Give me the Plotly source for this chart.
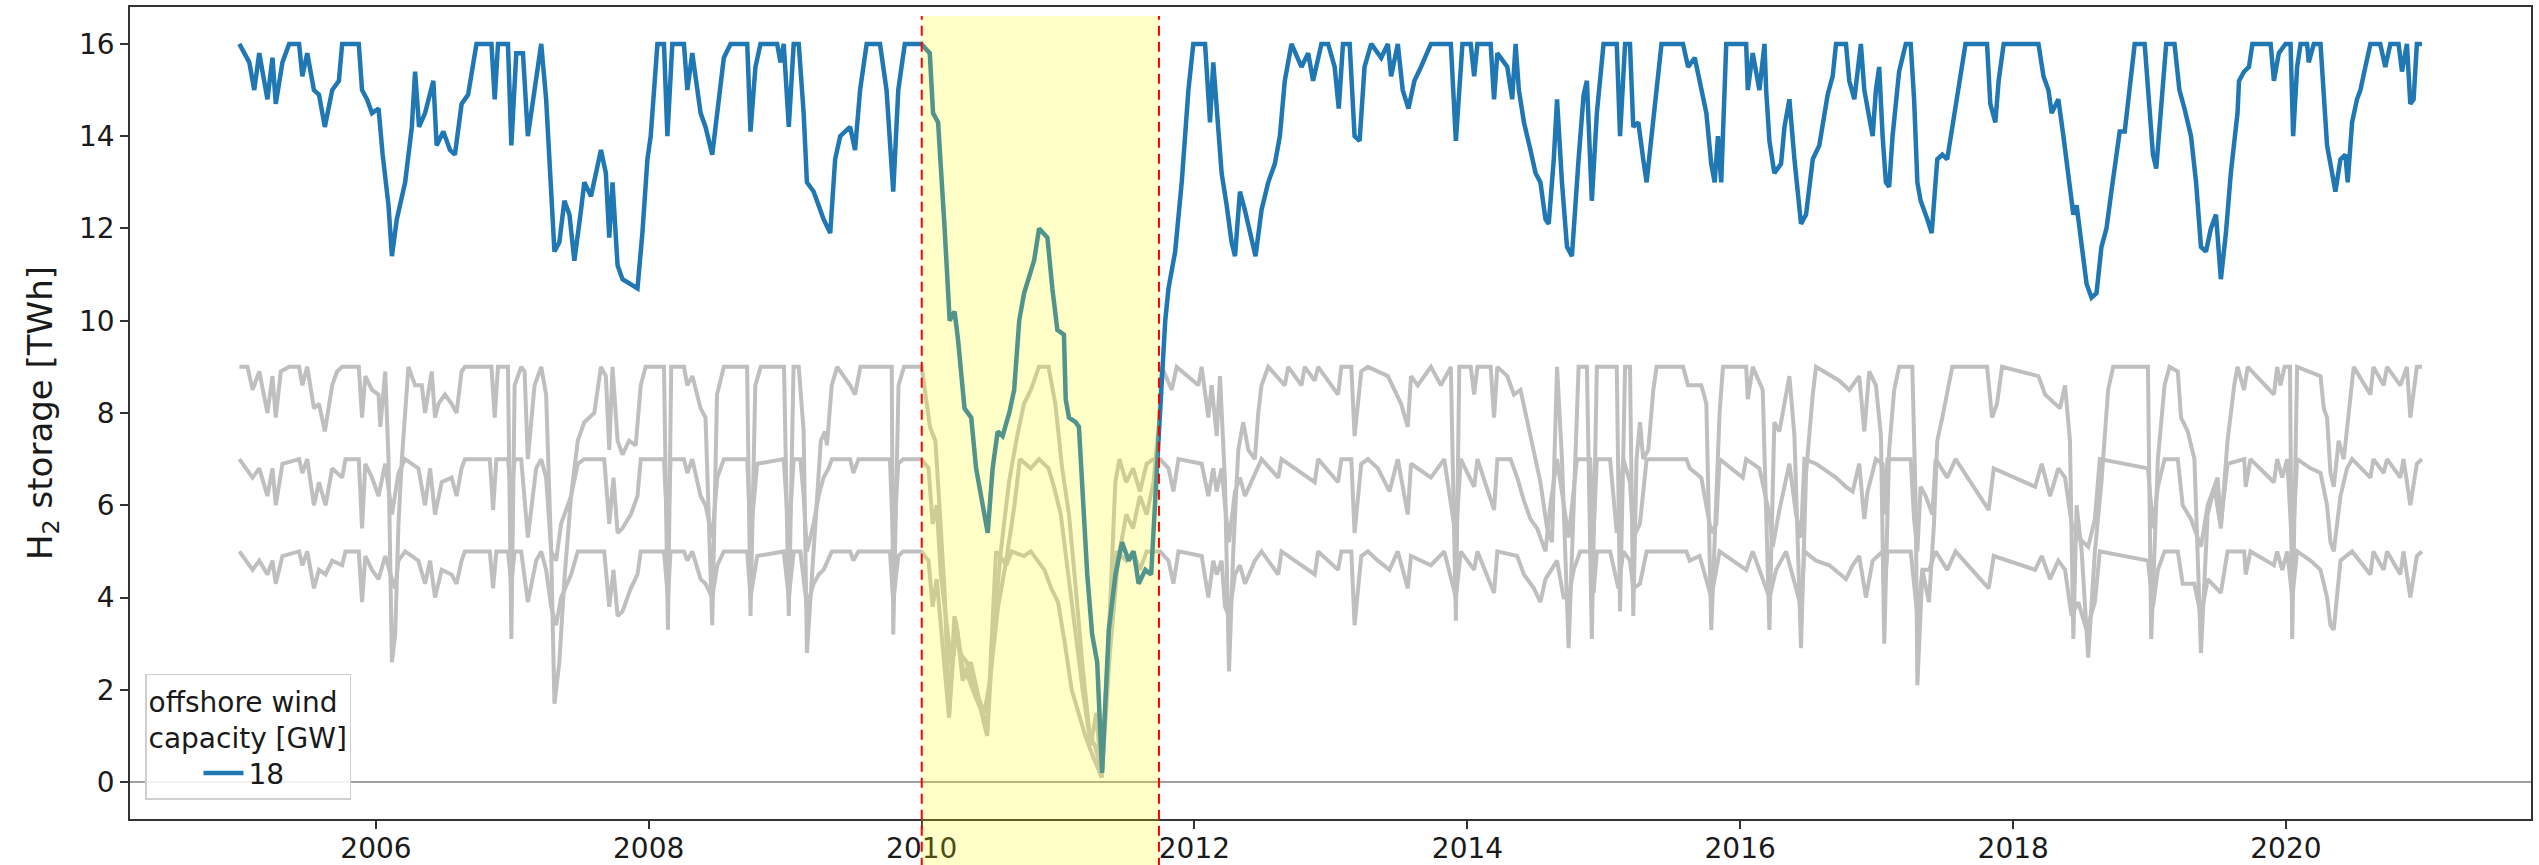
import plotly.graph_objects as go
from datetime import datetime

# ---------------- data (decimal years, TWh) ----------------
blue_t = [2004.998, 2005.071, 2005.107, 2005.144, 2005.204, 2005.241, 2005.265, 2005.314, 2005.363, 2005.436,
          2005.460, 2005.496, 2005.545, 2005.582, 2005.625, 2005.679, 2005.728, 2005.752, 2005.874, 2005.898,
          2005.934, 2005.971, 2006.019, 2006.049, 2006.092, 2006.117, 2006.153, 2006.214, 2006.263, 2006.287,
          2006.316, 2006.360, 2006.421, 2006.445, 2006.494, 2006.543, 2006.579, 2006.628, 2006.676, 2006.713,
          2006.737, 2006.847, 2006.871, 2006.895, 2006.968, 2006.993, 2007.029, 2007.078, 2007.114, 2007.163,
          2007.212, 2007.248, 2007.280, 2007.309, 2007.345, 2007.382, 2007.419, 2007.455, 2007.504, 2007.528,
          2007.577, 2007.650, 2007.686, 2007.711, 2007.735, 2007.772, 2007.808, 2007.869, 2007.918, 2007.954,
          2007.991, 2008.015, 2008.064, 2008.112, 2008.137, 2008.173, 2008.258, 2008.283, 2008.319, 2008.380,
          2008.416, 2008.465, 2008.502, 2008.550, 2008.599, 2008.721, 2008.745, 2008.781, 2008.818, 2008.940,
          2008.964, 2008.988, 2009.025, 2009.061, 2009.098, 2009.134, 2009.158, 2009.207, 2009.244, 2009.280,
          2009.329, 2009.365, 2009.402, 2009.475, 2009.511, 2009.548, 2009.596, 2009.694, 2009.742, 2009.791,
          2009.828, 2009.876, 2009.998, 2010.059, 2010.083, 2010.120, 2010.168, 2010.193, 2010.205, 2010.241,
          2010.266, 2010.314, 2010.363, 2010.399, 2010.447, 2010.484, 2010.520, 2010.557, 2010.593, 2010.642,
          2010.678, 2010.715, 2010.751, 2010.788, 2010.824, 2010.861, 2010.922, 2010.958, 2010.995, 2011.043,
          2011.056, 2011.080, 2011.129, 2011.153, 2011.189, 2011.214, 2011.250, 2011.287, 2011.323, 2011.372,
          2011.421, 2011.469, 2011.518, 2011.554, 2011.591, 2011.640, 2011.683, 2011.700, 2011.742, 2011.786,
          2011.810, 2011.859, 2011.907, 2011.956, 2011.992, 2012.078, 2012.114, 2012.138, 2012.163, 2012.199,
          2012.236, 2012.272, 2012.297, 2012.333, 2012.369, 2012.418, 2012.447, 2012.491, 2012.540, 2012.588,
          2012.625, 2012.661, 2012.710, 2012.783, 2012.832, 2012.868, 2012.929, 2012.978, 2013.026, 2013.056,
          2013.087, 2013.136, 2013.172, 2013.209, 2013.245, 2013.294, 2013.367, 2013.416, 2013.440, 2013.489,
          2013.525, 2013.567, 2013.611, 2013.659, 2013.732, 2013.878, 2013.915, 2013.963, 2014.024, 2014.049,
          2014.073, 2014.170, 2014.195, 2014.219, 2014.292, 2014.328, 2014.353, 2014.377, 2014.414, 2014.462,
          2014.499, 2014.535, 2014.572, 2014.596, 2014.633, 2014.657, 2014.693, 2014.730, 2014.766, 2014.815,
          2014.852, 2014.876, 2014.912, 2014.949, 2014.998, 2015.095, 2015.119, 2015.156, 2015.192, 2015.216,
          2015.253, 2015.289, 2015.314, 2015.350, 2015.387, 2015.423, 2015.581, 2015.618, 2015.667, 2015.715,
          2015.752, 2015.788, 2015.813, 2015.837, 2015.861, 2015.898, 2016.044, 2016.056, 2016.092, 2016.141,
          2016.178, 2016.190, 2016.214, 2016.250, 2016.299, 2016.324, 2016.360, 2016.397, 2016.445, 2016.482,
          2016.531, 2016.579, 2016.604, 2016.640, 2016.677, 2016.701, 2016.774, 2016.798, 2016.835, 2016.859,
          2016.883, 2016.908, 2016.932, 2016.969, 2016.993, 2017.017, 2017.042, 2017.066, 2017.090, 2017.115,
          2017.163, 2017.212, 2017.248, 2017.273, 2017.297, 2017.321, 2017.370, 2017.402, 2017.443, 2017.480,
          2017.516, 2017.553, 2017.589, 2017.626, 2017.650, 2017.808, 2017.832, 2017.869, 2017.893, 2017.930,
          2018.185, 2018.222, 2018.258, 2018.282, 2018.331, 2018.368, 2018.404, 2018.441, 2018.465, 2018.502,
          2018.538, 2018.574, 2018.611, 2018.647, 2018.684, 2018.720, 2018.757, 2018.781, 2018.818, 2018.854,
          2018.891, 2018.964, 2018.988, 2019.025, 2019.049, 2019.085, 2019.122, 2019.183, 2019.219, 2019.256,
          2019.304, 2019.341, 2019.377, 2019.414, 2019.450, 2019.487, 2019.523, 2019.560, 2019.596, 2019.645,
          2019.656, 2019.693, 2019.729, 2019.754, 2019.888, 2019.912, 2019.948, 2019.997, 2020.034, 2020.053,
          2020.082, 2020.107, 2020.155, 2020.167, 2020.204, 2020.253, 2020.277, 2020.301, 2020.338, 2020.362,
          2020.399, 2020.435, 2020.452, 2020.484, 2020.520, 2020.545, 2020.581, 2020.618, 2020.690, 2020.727,
          2020.764, 2020.824, 2020.849, 2020.885, 2020.910, 2020.934, 2020.958, 2020.995]
blue_v = [16, 15.6, 15.0, 15.8, 14.8, 15.7, 14.7, 15.6, 16.0, 16.0,
          15.3, 15.8, 15.0, 14.9, 14.2, 15.0, 15.2, 16, 16, 15.0,
          14.8, 14.5, 14.6, 13.6, 12.5, 11.4, 12.2, 13.0, 14.2, 15.4,
          14.2, 14.5, 15.2, 13.8, 14.1, 13.7, 13.6, 14.7, 14.9, 15.6,
          16, 16, 14.8, 16, 16, 13.8, 15.8, 15.8, 14.0, 15.0,
          16, 14.8, 13.0, 11.5, 11.7, 12.6, 12.3, 11.3, 12.4, 13.0,
          12.7, 13.7, 13.2, 11.8, 13.0, 11.2, 10.9, 10.8, 10.7, 11.9,
          13.5, 14.0, 16, 16, 14.0, 16, 16, 15.0, 15.8, 14.5,
          14.2, 13.6, 14.5, 15.7, 16, 16, 14.1, 15.5, 16, 16,
          15.6, 16, 14.2, 16, 16, 14.5, 13.0, 12.8, 12.5, 12.2,
          11.9, 13.5, 14.0, 14.2, 13.7, 15.0, 16, 16, 15.0, 12.8,
          15.0, 16, 16, 15.8, 14.5, 14.3, 12.0, 10.5, 10.0, 10.2,
          9.6, 8.1, 7.9, 6.8, 6.0, 5.4, 6.8, 7.6, 7.5, 8.0,
          8.5, 10.0, 10.6, 11.0, 11.3, 12.0, 11.8, 10.7, 9.8, 9.7,
          8.3, 7.9, 7.8, 7.7, 5.6, 4.5, 3.2, 2.6, 0.2, 3.3,
          4.5, 5.2, 4.8, 5.0, 4.3, 4.6, 4.5, 5.5, 7.7, 10.0,
          10.7, 11.5, 13.0, 15.0, 16, 16, 14.3, 15.6, 14.5, 13.2,
          12.5, 11.7, 11.4, 12.8, 12.4, 11.8, 11.4, 12.4, 13.0, 13.4,
          14.0, 15.2, 16, 15.5, 15.8, 15.2, 16, 16, 15.5, 14.6,
          16, 16, 14.0, 13.9, 15.5, 16, 15.7, 16, 15.3, 16,
          15.0, 14.6, 15.2, 15.5, 16, 16, 13.9, 16, 16, 15.3,
          16, 16, 14.8, 15.8, 15.5, 14.8, 16, 15.0, 14.3, 13.7,
          13.2, 13.0, 12.2, 12.1, 13.5, 14.8, 13.0, 11.6, 11.4, 13.5,
          14.9, 15.2, 12.6, 14.5, 16, 16, 14.0, 16, 16, 14.2,
          14.3, 13.5, 13.0, 14.0, 15.0, 16, 16, 15.5, 15.7, 15.0,
          14.5, 13.4, 13.0, 14.0, 13.0, 16, 16, 15.0, 15.8, 15.0,
          16, 15.0, 13.9, 13.2, 13.4, 14.2, 14.8, 13.5, 12.1, 12.3,
          13.5, 13.8, 14.3, 14.9, 15.3, 16, 16, 15.2, 14.8, 15.5,
          16, 15.0, 14.6, 14.0, 15.0, 15.5, 14.0, 13.0, 12.9, 14.0,
          15.4, 16, 16, 14.8, 13.0, 12.6, 12.2, 11.9, 13.5, 13.6,
          13.5, 14.2, 15.0, 15.7, 16, 16, 14.7, 14.3, 15.2, 16,
          16, 15.3, 15.0, 14.5, 14.8, 14.0, 13.2, 12.3, 12.5, 11.6,
          10.8, 10.5, 10.6, 11.6, 12.0, 12.8, 13.5, 14.1, 14.1, 15.0,
          16, 16, 15.0, 13.6, 13.3, 14.5, 16, 16, 15.0, 14.6,
          14.0, 13.0, 11.6, 11.5, 12.0, 12.3, 10.9, 11.9, 13.2, 14.5,
          15.2, 15.4, 15.5, 16, 16, 15.2, 15.8, 16, 16, 14.0,
          15.5, 16, 16, 15.6, 16, 16, 15.0, 13.8, 13.2, 12.8,
          13.5, 13.6, 13.0, 14.3, 14.8, 15.0, 15.5, 16, 16, 15.5,
          16, 16, 15.4, 16, 14.7, 14.8, 16, 16]

g9_t = [2004.998, 2005.058, 2005.095, 2005.144, 2005.204, 2005.241, 2005.265, 2005.302, 2005.363, 2005.436,
        2005.460, 2005.496, 2005.545, 2005.582, 2005.625, 2005.679, 2005.715, 2005.752, 2005.874, 2005.898,
        2005.922, 2005.971, 2006.019, 2006.032, 2006.068, 2006.092, 2006.117, 2006.141, 2006.165, 2006.190,
        2006.238, 2006.287, 2006.336, 2006.360, 2006.409, 2006.433, 2006.458, 2006.506, 2006.555, 2006.591,
        2006.628, 2006.652, 2006.847, 2006.871, 2006.895, 2006.968, 2006.993, 2007.017, 2007.065, 2007.090,
        2007.114, 2007.163, 2007.212, 2007.248, 2007.285, 2007.309, 2007.345, 2007.382, 2007.431, 2007.480,
        2007.528, 2007.601, 2007.650, 2007.686, 2007.711, 2007.735, 2007.772, 2007.808, 2007.857, 2007.905,
        2007.942, 2007.978, 2008.112, 2008.141, 2008.165, 2008.258, 2008.283, 2008.320, 2008.380, 2008.416,
        2008.465, 2008.500, 2008.550, 2008.720, 2008.745, 2008.780, 2008.820, 2008.990, 2009.025, 2009.060,
        2009.098, 2009.134, 2009.158, 2009.207, 2009.230, 2009.260, 2009.290, 2009.305, 2009.340, 2009.380,
        2009.475, 2009.511, 2009.550, 2009.780, 2009.791, 2009.830, 2009.870, 2010.000, 2010.060, 2010.100,
        2010.130, 2010.170, 2010.200, 2010.240, 2010.280, 2010.330, 2010.380, 2010.430, 2010.480, 2010.520,
        2010.580, 2010.640, 2010.700, 2010.750, 2010.800, 2010.860, 2010.930, 2010.980, 2011.030, 2011.080,
        2011.130, 2011.180, 2011.240, 2011.280, 2011.320, 2011.380, 2011.440, 2011.500, 2011.550, 2011.600,
        2011.650, 2011.700, 2011.740, 2011.760, 2011.834, 2011.870, 2012.029, 2012.053, 2012.102, 2012.126,
        2012.163, 2012.187, 2012.224, 2012.253, 2012.284, 2012.321, 2012.357, 2012.394, 2012.442, 2012.467,
        2012.491, 2012.540, 2012.661, 2012.686, 2012.783, 2012.807, 2012.880, 2012.905, 2013.051, 2013.075,
        2013.148, 2013.172, 2013.221, 2013.270, 2013.416, 2013.513, 2013.562, 2013.586, 2013.635, 2013.732,
        2013.805, 2013.878, 2013.915, 2013.940, 2014.024, 2014.049, 2014.073, 2014.170, 2014.195, 2014.219,
        2014.292, 2014.341, 2014.389, 2014.438, 2014.487, 2014.535, 2014.584, 2014.620, 2014.657, 2014.693,
        2014.742, 2014.779, 2014.815, 2014.876, 2014.912, 2014.949, 2015.095, 2015.119, 2015.156, 2015.192,
        2015.216, 2015.240, 2015.265, 2015.289, 2015.326, 2015.363, 2015.387, 2015.581, 2015.618, 2015.715,
        2015.752, 2015.788, 2015.825, 2015.849, 2015.874, 2016.044, 2016.056, 2016.092, 2016.165, 2016.214,
        2016.250, 2016.287, 2016.360, 2016.397, 2016.445, 2016.482, 2016.531, 2016.555, 2016.725, 2016.798,
        2016.871, 2016.908, 2016.944, 2016.993, 2017.030, 2017.054, 2017.090, 2017.127, 2017.163, 2017.260,
        2017.285, 2017.297, 2017.334, 2017.382, 2017.419, 2017.443, 2017.480, 2017.516, 2017.553, 2017.808,
        2017.845, 2017.881, 2017.918, 2018.185, 2018.234, 2018.343, 2018.380, 2018.416, 2018.441, 2018.465,
        2018.502, 2018.550, 2018.599, 2018.647, 2018.696, 2018.733, 2018.988, 2019.012, 2019.061, 2019.110,
        2019.146, 2019.207, 2019.231, 2019.280, 2019.329, 2019.377, 2019.426, 2019.475, 2019.523, 2019.572,
        2019.621, 2019.645, 2019.693, 2019.720, 2019.912, 2019.936, 2019.960, 2019.990, 2020.030, 2020.046,
        2020.082, 2020.253, 2020.277, 2020.301, 2020.326, 2020.350, 2020.386, 2020.423, 2020.459, 2020.496,
        2020.618, 2020.640, 2020.715, 2020.740, 2020.837, 2020.885, 2020.910, 2020.934, 2020.958, 2020.995]
g9_v = [9, 9, 8.5, 8.9, 8.0, 8.8, 7.9, 8.9, 9, 9,
        8.6, 9, 8.1, 8.2, 7.6, 8.6, 8.9, 9, 9, 7.9,
        8.8, 8.5, 8.4, 7.7, 8.9, 7.0, 2.6, 3.2, 5.6, 7.0,
        9, 8.6, 8.6, 8.0, 8.9, 7.9, 8.2, 8.4, 8.2, 8.0,
        8.9, 9, 9, 7.9, 9, 9, 3.1, 8.6, 9, 8.9,
        7.0, 8.6, 9, 8.4, 5.0, 1.7, 2.6, 4.4, 6.2, 7.4,
        7.8, 8.0, 9.0, 8.8, 7.2, 9.0, 7.4, 7.1, 7.4, 7.3,
        8.6, 9, 9, 3.3, 9, 9, 8.6, 8.8, 8.1, 7.9,
        3.4, 8.4, 9, 9, 3.6, 8.6, 9, 9, 3.6, 9,
        9, 7.6, 2.8, 5.0, 6.2, 7.4, 7.6, 7.3, 8.6, 9,
        8.6, 8.4, 9, 9, 3.2, 8.6, 9, 9, 7.7, 7.4,
        6.0, 4.0, 1.4, 3.6, 2.8, 2.6, 2.0, 1.6, 1.0, 3.0,
        5.0, 6.5, 7.5, 8.2, 8.5, 9.0, 9.0, 8.2, 6.8, 5.8,
        4.2, 2.5, 0.8, 1.5, 0.1, 2.8, 4.8, 5.8, 5.5, 6.2,
        5.8, 6.5, 7.8, 9.0, 8.5, 9, 8.6, 9, 7.9, 8.6,
        7.5, 8.8, 6.5, 2.4, 5.0, 7.2, 7.8, 7.2, 7.0, 8.0,
        8.6, 9, 8.6, 9, 8.6, 9, 8.7, 9, 8.4, 9,
        9, 7.5, 8.9, 9, 8.8, 8.2, 7.7, 8.8, 8.6, 9,
        8.6, 9, 3.5, 9, 9, 8.4, 9, 9, 7.9, 9,
        8.8, 8.4, 8.5, 7.8, 7.2, 6.5, 5.5, 5.2, 9.0, 7.0,
        2.9, 6.0, 9, 9, 3.1, 9, 9, 3.7, 9, 9,
        3.6, 7.0, 7.8, 7.0, 7.2, 8.5, 9, 9, 8.6, 8.6,
        8.2, 3.3, 6.4, 8.0, 9, 9, 8.3, 9, 8.5, 3.3,
        7.8, 7.6, 8.8, 7.5, 2.9, 6.7, 8.4, 9, 8.7, 8.5,
        8.8, 7.6, 8.9, 8.6, 7.5, 3.0, 7.2, 8.5, 9, 9,
        6.0, 2.1, 4.6, 3.9, 5.6, 7.4, 7.9, 8.5, 9, 9,
        7.9, 8.2, 9, 8.8, 8.4, 8.1, 8.6, 7.4, 3.1, 6.0,
        5.0, 2.7, 5.0, 6.5, 8.5, 9, 9, 3.1, 7.0, 8.6,
        9, 8.9, 7.9, 7.6, 7.0, 2.8, 5.8, 6.4, 5.5, 7.4,
        8.6, 9, 8.5, 9, 8.4, 9, 8.6, 9, 9, 3.1,
        9, 8.8, 8.1, 7.9, 6.7, 6.4, 7.4, 7.0, 8.0, 9,
        8.4, 9, 8.6, 9, 8.6, 9, 7.9, 8.5, 9, 9]

g7_t = [2004.998, 2005.095, 2005.144, 2005.204, 2005.241, 2005.265, 2005.314, 2005.436, 2005.460, 2005.496,
        2005.545, 2005.582, 2005.630, 2005.679, 2005.752, 2005.776, 2005.874, 2005.898, 2005.922, 2005.971,
        2006.019, 2006.068, 2006.117, 2006.165, 2006.214, 2006.311, 2006.360, 2006.397, 2006.433, 2006.482,
        2006.555, 2006.591, 2006.628, 2006.652, 2006.835, 2006.859, 2006.883, 2006.968, 2006.993, 2007.017,
        2007.065, 2007.114, 2007.175, 2007.212, 2007.248, 2007.285, 2007.321, 2007.358, 2007.431, 2007.480,
        2007.528, 2007.674, 2007.711, 2007.742, 2007.772, 2007.808, 2007.869, 2007.918, 2007.942, 2008.112,
        2008.141, 2008.160, 2008.258, 2008.283, 2008.319, 2008.380, 2008.416, 2008.465, 2008.502, 2008.550,
        2008.721, 2008.745, 2008.794, 2008.988, 2009.025, 2009.061, 2009.110, 2009.134, 2009.158, 2009.207,
        2009.244, 2009.280, 2009.317, 2009.341, 2009.475, 2009.499, 2009.536, 2009.767, 2009.791, 2009.828,
        2009.864, 2009.998, 2010.050, 2010.080, 2010.110, 2010.140, 2010.180, 2010.220, 2010.260, 2010.300,
        2010.360, 2010.420, 2010.460, 2010.500, 2010.560, 2010.620, 2010.680, 2010.720, 2010.800, 2010.860,
        2010.930, 2010.970, 2011.020, 2011.070, 2011.120, 2011.180, 2011.230, 2011.270, 2011.320, 2011.370,
        2011.420, 2011.450, 2011.500, 2011.550, 2011.600, 2011.650, 2011.700, 2011.749, 2011.810, 2011.846,
        2011.883, 2012.053, 2012.102, 2012.138, 2012.163, 2012.199, 2012.224, 2012.253, 2012.297, 2012.333,
        2012.370, 2012.442, 2012.491, 2012.613, 2012.637, 2012.880, 2012.905, 2013.051, 2013.075, 2013.148,
        2013.172, 2013.221, 2013.270, 2013.343, 2013.428, 2013.489, 2013.562, 2013.586, 2013.732, 2013.830,
        2013.915, 2013.951, 2014.049, 2014.073, 2014.195, 2014.219, 2014.316, 2014.365, 2014.414, 2014.462,
        2014.511, 2014.572, 2014.608, 2014.657, 2014.705, 2014.742, 2014.803, 2014.900, 2014.925, 2014.949,
        2015.046, 2015.095, 2015.143, 2015.192, 2015.216, 2015.265, 2015.314, 2015.606, 2015.630, 2015.715,
        2015.788, 2015.825, 2015.849, 2016.019, 2016.044, 2016.141, 2016.214, 2016.238, 2016.287, 2016.360,
        2016.409, 2016.445, 2016.470, 2016.555, 2016.652, 2016.701, 2016.774, 2016.823, 2016.871, 2016.908,
        2016.932, 2016.993, 2017.042, 2017.054, 2017.078, 2017.248, 2017.273, 2017.297, 2017.321, 2017.358,
        2017.407, 2017.431, 2017.516, 2017.577, 2017.820, 2017.857, 2018.161, 2018.209, 2018.270, 2018.331,
        2018.380, 2018.428, 2018.477, 2018.550, 2018.599, 2018.635, 2018.988, 2019.025, 2019.061, 2019.110,
        2019.207, 2019.243, 2019.304, 2019.377, 2019.426, 2019.499, 2019.523, 2019.572, 2019.694, 2019.705,
        2019.740, 2019.912, 2019.936, 2019.973, 2020.010, 2020.046, 2020.082, 2020.180, 2020.253, 2020.301,
        2020.326, 2020.350, 2020.399, 2020.447, 2020.484, 2020.618, 2020.640, 2020.715, 2020.740, 2020.837,
        2020.860, 2020.910, 2020.958, 2020.995]
g7_v = [7, 6.6, 6.8, 6.2, 6.8, 6.0, 6.9, 7, 6.7, 7,
        6.0, 6.5, 6.0, 6.8, 6.6, 7, 7, 5.5, 6.9, 6.6,
        6.2, 6.9, 5.8, 6.7, 7, 6.8, 6.0, 6.8, 5.8, 6.5,
        6.6, 6.2, 6.8, 7, 7, 5.9, 7, 7, 6.2, 7,
        7, 5.3, 6.8, 7, 6.6, 5.0, 4.8, 5.6, 6.2, 6.9,
        7.0, 7.0, 5.6, 6.6, 5.4, 5.5, 5.8, 6.2, 7.0, 7.0,
        5.2, 7.0, 7.0, 6.7, 7.0, 6.2, 6.0, 5.3, 6.6, 7.0,
        7.0, 5.3, 6.9, 7.0, 5.3, 7.0, 7.0, 6.2, 5.0, 5.6,
        6.2, 6.6, 6.8, 7.0, 7.0, 6.7, 7.0, 7.0, 5.1, 6.9,
        7.0, 7.0, 6.8, 5.6, 6.0, 4.5, 3.5, 2.5, 3.3, 2.2,
        2.6, 1.8, 1.5, 2.2, 3.8, 4.8, 6.0, 7.0, 6.8, 7.0,
        6.8, 6.4, 5.8, 4.6, 3.3, 2.0, 1.0, 0.8, 0.2, 3.0,
        6.5, 7.0, 6.5, 6.8, 6.3, 6.9, 7.0, 7.0, 6.8, 6.3,
        7.0, 6.9, 6.2, 6.8, 6.3, 6.8, 6.0, 5.2, 6.3, 6.6,
        6.2, 6.7, 7.0, 6.6, 7.0, 6.5, 7.0, 6.5, 7.0, 7.0,
        5.4, 6.9, 7.0, 6.8, 6.3, 7, 5.8, 6.9, 6.6, 7,
        5.3, 7, 6.4, 7, 5.9, 7, 7, 6.6, 6.1, 5.7,
        5.5, 5.0, 6.0, 7.0, 6.0, 5.3, 7, 7, 5.4, 7,
        7, 5.4, 7, 6.5, 5.3, 5.6, 7, 7, 6.8, 6.6,
        5.4, 5.6, 7, 6.6, 7, 6.8, 5.8, 5.1, 5.9, 6.9,
        5.8, 5.3, 7.0, 6.9, 6.7, 6.6, 6.4, 6.3, 6.9, 5.7,
        6.3, 7.0, 6.9, 5.8, 7.0, 7.0, 5.7, 5.0, 6.4, 6.2,
        5.8, 7.0, 6.6, 7.0, 5.9, 6.8, 6.4, 6.9, 6.2, 6.8,
        6.6, 5.6, 5.3, 5.1, 5.7, 7.0, 6.8, 5.5, 6.4, 7.0,
        7.0, 6.0, 5.7, 5.1, 6.0, 6.6, 5.6, 6.9, 7.0, 6.4,
        7.0, 6.5, 7.0, 6.6, 7.0, 5.0, 7.0, 6.8, 6.7, 6.0,
        5.2, 5.0, 6.2, 6.8, 7.0, 6.6, 7.0, 6.7, 7.0, 6.6,
        7.0, 6.0, 6.9, 7.0]

g5_t = [2004.998, 2005.095, 2005.144, 2005.204, 2005.241, 2005.265, 2005.314, 2005.436, 2005.460, 2005.496,
        2005.545, 2005.582, 2005.630, 2005.679, 2005.752, 2005.776, 2005.874, 2005.898, 2005.922, 2005.971,
        2006.019, 2006.068, 2006.117, 2006.141, 2006.165, 2006.214, 2006.311, 2006.360, 2006.397, 2006.433,
        2006.482, 2006.555, 2006.591, 2006.628, 2006.652, 2006.835, 2006.859, 2006.883, 2006.968, 2006.993,
        2007.017, 2007.065, 2007.114, 2007.175, 2007.212, 2007.248, 2007.285, 2007.321, 2007.358, 2007.431,
        2007.480, 2007.674, 2007.711, 2007.742, 2007.772, 2007.808, 2007.869, 2007.918, 2007.942, 2008.112,
        2008.141, 2008.160, 2008.258, 2008.283, 2008.319, 2008.380, 2008.416, 2008.465, 2008.502, 2008.550,
        2008.721, 2008.745, 2008.794, 2008.988, 2009.025, 2009.061, 2009.110, 2009.134, 2009.158, 2009.207,
        2009.244, 2009.280, 2009.341, 2009.475, 2009.499, 2009.536, 2009.767, 2009.791, 2009.828, 2009.864,
        2009.998, 2010.050, 2010.080, 2010.110, 2010.150, 2010.200, 2010.250, 2010.300, 2010.350, 2010.400,
        2010.450, 2010.480, 2010.520, 2010.545, 2010.600, 2010.620, 2010.660, 2010.750, 2010.800, 2010.900,
        2010.950, 2011.000, 2011.050, 2011.100, 2011.150, 2011.200, 2011.250, 2011.320, 2011.360, 2011.400,
        2011.430, 2011.500, 2011.550, 2011.600, 2011.650, 2011.749, 2011.810, 2011.846, 2011.883, 2012.053,
        2012.102, 2012.138, 2012.163, 2012.199, 2012.224, 2012.253, 2012.297, 2012.333, 2012.370, 2012.442,
        2012.491, 2012.613, 2012.637, 2012.880, 2012.905, 2013.051, 2013.075, 2013.148, 2013.172, 2013.221,
        2013.270, 2013.343, 2013.428, 2013.489, 2013.562, 2013.586, 2013.732, 2013.830, 2013.915, 2013.951,
        2014.049, 2014.073, 2014.195, 2014.219, 2014.365, 2014.414, 2014.487, 2014.535, 2014.572, 2014.657,
        2014.705, 2014.742, 2014.779, 2014.827, 2014.900, 2014.925, 2014.949, 2015.046, 2015.107, 2015.143,
        2015.192, 2015.216, 2015.265, 2015.314, 2015.606, 2015.630, 2015.703, 2015.788, 2015.849, 2016.044,
        2016.092, 2016.214, 2016.263, 2016.336, 2016.445, 2016.470, 2016.555, 2016.652, 2016.774, 2016.823,
        2016.871, 2016.920, 2016.969, 2017.042, 2017.054, 2017.078, 2017.248, 2017.273, 2017.297, 2017.334,
        2017.383, 2017.431, 2017.516, 2017.577, 2017.820, 2017.857, 2018.161, 2018.209, 2018.270, 2018.331,
        2018.380, 2018.428, 2018.477, 2018.538, 2018.599, 2018.635, 2018.988, 2019.025, 2019.061, 2019.110,
        2019.207, 2019.243, 2019.328, 2019.377, 2019.426, 2019.523, 2019.572, 2019.694, 2019.705, 2019.740,
        2019.912, 2019.936, 2019.973, 2020.010, 2020.046, 2020.082, 2020.180, 2020.253, 2020.301, 2020.326,
        2020.350, 2020.399, 2020.484, 2020.618, 2020.640, 2020.715, 2020.740, 2020.837, 2020.860, 2020.910,
        2020.958, 2020.995]
g5_v = [5, 4.6, 4.8, 4.5, 4.8, 4.3, 4.9, 5, 4.7, 5,
        4.2, 4.6, 4.5, 4.8, 4.7, 5, 5, 3.9, 4.9, 4.6,
        4.4, 4.9, 4.4, 4.2, 4.8, 5, 4.8, 4.3, 4.8, 4.0,
        4.6, 4.5, 4.3, 4.8, 5, 5, 4.2, 5, 5, 4.3,
        5, 5, 3.9, 4.8, 5, 4.6, 3.8, 3.4, 4.0, 4.5,
        5.0, 5.0, 3.8, 4.6, 3.6, 3.7, 4.2, 4.5, 5.0, 5.0,
        4.0, 5.0, 5.0, 4.8, 5.0, 4.4, 4.3, 4.0, 4.7, 5.0,
        5.0, 4.0, 4.9, 5.0, 4.0, 5.0, 5.0, 4.4, 3.8, 4.3,
        4.5, 4.6, 5.0, 5.0, 4.8, 5.0, 5.0, 3.9, 4.9, 5.0,
        5.0, 4.8, 3.8, 4.4, 3.0, 1.4, 3.5, 2.5, 2.2, 1.8,
        1.5, 1.1, 3.5, 5.0, 4.8, 4.7, 5.0, 4.9, 5.0, 4.6,
        4.2, 3.9, 3.0, 2.0, 1.5, 1.0, 0.6, 0.1, 2.5, 4.5,
        5.0, 4.8, 5.0, 4.6, 5.0, 5.0, 4.8, 4.3, 5.0, 4.9,
        4.0, 4.8, 4.5, 4.8, 3.8, 3.6, 4.5, 4.7, 4.3, 4.8,
        5.0, 4.5, 5.0, 4.5, 5.0, 4.6, 5.0, 5.0, 3.4, 4.9,
        5.0, 4.8, 4.6, 5, 4.2, 4.9, 4.7, 5, 4.0, 5,
        4.6, 5, 4.1, 5, 4.9, 4.5, 4.2, 3.9, 4.4, 4.8,
        4.0, 4.0, 4.6, 5, 5, 4.1, 5, 5, 4.2, 5,
        4.8, 4.2, 4.3, 5, 5, 4.8, 4.9, 4.0, 5, 4.6,
        5, 4.0, 4.6, 5, 3.8, 5.0, 4.8, 4.7, 4.4, 4.7,
        4.9, 4.0, 4.8, 5.0, 4.2, 5.0, 5.0, 4.2, 3.6, 4.6,
        4.6, 5.0, 4.6, 5.0, 4.2, 4.9, 4.6, 4.9, 4.4, 4.8,
        4.6, 3.6, 3.9, 3.3, 3.9, 5.0, 4.8, 3.8, 4.6, 5.0,
        5.0, 4.3, 4.3, 3.6, 4.4, 4.1, 5.0, 5.0, 4.5, 5.0,
        4.7, 5.0, 4.6, 5.0, 4.0, 5.0, 4.8, 4.6, 4.0, 3.4,
        3.3, 4.8, 5.0, 4.5, 5.0, 4.6, 5.0, 4.5, 5.0, 4.0,
        4.9, 5.0]

drought_start = 2010.0
drought_end = 2011.74
legend_name = "18"


def to_date(t):
    y = int(t)
    a = datetime(y, 1, 1)
    b = datetime(y + 1, 1, 1)
    return a + (b - a) * (t - y)


fig = go.Figure()
grey = "#bfbfbf"
for tt, vv in [(g9_t, g9_v), (g7_t, g7_v), (g5_t, g5_v)]:
    fig.add_trace(go.Scatter(x=[to_date(t) for t in tt], y=vv, mode="lines",
                             line=dict(color=grey, width=4), showlegend=False, hoverinfo="skip"))
fig.add_trace(go.Scatter(x=[to_date(t) for t in blue_t], y=blue_v, mode="lines",
                         line=dict(color="#1f77b4", width=4.5), name=legend_name))

t_all = blue_t + g9_t + g7_t + g5_t
tmin, tmax = min(t_all), max(t_all)
pad = 0.05 * (tmax - tmin)

axis_common = dict(showline=True, mirror=True, linecolor="#333333", linewidth=1.5,
                   ticks="outside", ticklen=8, tickwidth=1.5, tickcolor="#333333",
                   showgrid=False, zeroline=False, automargin=False)

fig.update_layout(
    width=2539, height=865,
    margin=dict(l=130, r=8, t=7, b=46),
    paper_bgcolor="white", plot_bgcolor="white",
    font=dict(family="DejaVu Sans", color="#1a1a1a"),
    xaxis=dict(type="date", range=[to_date(tmin - pad), to_date(tmax + pad)],
               tick0="2006-01-01", dtick="M24", tickformat="%Y", ticklabelstandoff=-4,
               tickfont=dict(family="DejaVu Sans", size=28, color="#1a1a1a"), **axis_common),
    yaxis=dict(range=[-0.8, 16.8], tick0=0, dtick=2,
               tickfont=dict(family="DejaVu Sans", size=28, color="#1a1a1a"),
               title=dict(text="H<sub>2</sub> storage [TWh]", standoff=16,
                          font=dict(family="DejaVu Sans", size=34, color="#1a1a1a")),
               **axis_common),
    legend=dict(x=0.00625, y=0.0234, xanchor="left", yanchor="bottom",
                bgcolor="rgba(255,255,255,0.85)", bordercolor="#cfcfcf", borderwidth=1.5,
                font=dict(family="DejaVu Sans", size=28, color="#1a1a1a"),
                indentation=52, itemwidth=40, tracegroupgap=0,
                title=dict(text="offshore wind<br>capacity [GW]", side="top",
                           font=dict(family="DejaVu Sans", size=28, color="#1a1a1a"))),
    shapes=[
        dict(type="line", xref="paper", x0=0, x1=1, yref="y", y0=0, y1=0,
             line=dict(color="grey", width=1.5), layer="below"),
        dict(type="rect", xref="x", yref="paper", x0=to_date(drought_start), x1=to_date(drought_end),
             y0=-0.06, y1=0.989, fillcolor="rgba(255,255,0,0.22)", line=dict(width=0), layer="above"),
        dict(type="line", xref="x", yref="paper", x0=to_date(drought_start), x1=to_date(drought_start),
             y0=-0.06, y1=0.989, line=dict(color="red", width=2, dash="10px,6px"), layer="above"),
        dict(type="line", xref="x", yref="paper", x0=to_date(drought_end), x1=to_date(drought_end),
             y0=-0.06, y1=0.989, line=dict(color="red", width=2, dash="10px,6px"), layer="above"),
    ],
)

# the page body would otherwise add an 8px margin around the 2539x865 figure
fig.write_html("out.html", config={"displayModeBar": False},
               post_script="document.body.style.margin='0';document.body.style.overflow='hidden';")
